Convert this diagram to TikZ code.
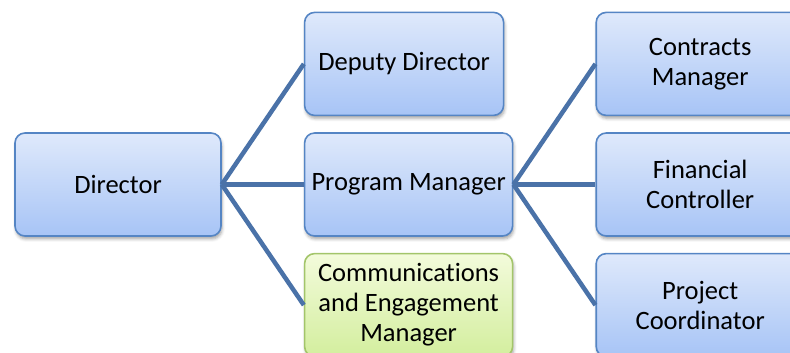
\documentclass[tikz,border=0pt]{standalone}
\usepackage{fontspec}
\setmainfont[Ligatures=NoCommon]{Carlito}
\usetikzlibrary{positioning,shadows,shadows.blur}

\definecolor{roletop}{HTML}{DFE9FB}
\definecolor{rolebottom}{HTML}{A7C4F6}
\definecolor{roleline}{HTML}{5585C4}
\definecolor{greentop}{HTML}{F3FBDB}
\definecolor{greenbottom}{HTML}{D3EE9E}
\definecolor{greenline}{HTML}{A3C56A}
\definecolor{linkblue}{HTML}{4A72A8}

\tikzset{
  role/.style={draw=roleline, line width=1.6pt, rounded corners=10pt,
    top color=roletop, bottom color=rolebottom,
    minimum width=208pt, minimum height=103pt, inner sep=2pt, align=center,
    font=\fontsize{26.5}{30}\selectfont,
    blur shadow={shadow xshift=1pt, shadow yshift=-3pt, shadow blur radius=3pt, shadow opacity=35}},
  comms/.style={role, draw=greenline, top color=greentop, bottom color=greenbottom},
  link/.style={draw=linkblue, line width=4.5pt}
}

\begin{document}
\begin{tikzpicture}[x=1pt, y=1pt]
\useasboundingbox (0,0) rectangle (790,353);
\clip (0,0) rectangle (790,353);

\node[role, minimum width=206pt] (director) at (118,168.5) {Director};
\node[role, right=82pt of director] (pm) {Program Manager};
\node[role, minimum width=199pt, above=16pt of pm.north west, anchor=south west] (deputy) {Deputy Director};
\node[comms, below=16pt of pm] (comms) {Communications\\and Engagement\\Manager};

\node[role, right=82pt of pm] (fin) {Financial\\Controller};
\node[role, above=16pt of fin] (contracts) {Contracts\\Manager};
\node[role, below=16pt of fin] (coord) {Project\\Coordinator};

\draw[link] (director.east) -- (deputy.west);
\draw[link] (director.east) -- (pm.west);
\draw[link] (director.east) -- (comms.west);
\draw[link] (pm.east) -- (contracts.west);
\draw[link] (pm.east) -- (fin.west);
\draw[link] (pm.east) -- (coord.west);
\end{tikzpicture}
\end{document}
